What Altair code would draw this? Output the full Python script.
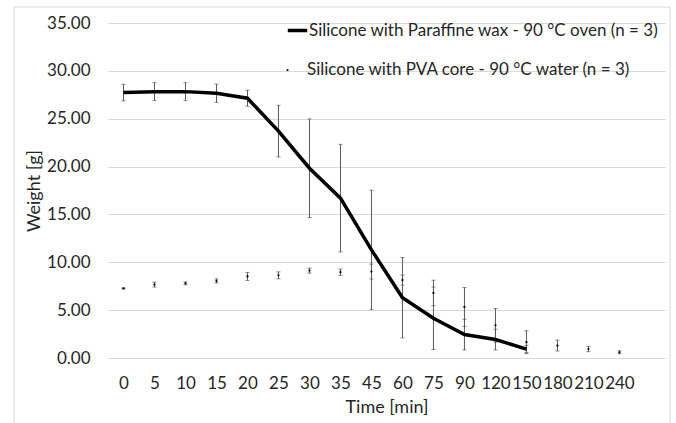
import altair as alt
import pandas as pd

times = ["0", "5", "10", "15", "20", "25", "30", "35", "45", "60", "75", "90",
         "120", "150", "180", "210", "240"]

S1 = "Silicone with Paraffine wax - 90 °C oven (n = 3)"
S2 = "Silicone with PVA core - 90 °C water (n = 3)"

paraffin_mean = [27.73, 27.83, 27.83, 27.66, 27.14, 23.70, 19.83, 16.70, 11.30,
                 6.30, 4.15, 2.45, 1.93, 0.93]
paraffin_err = [0.87, 0.94, 0.94, 0.96, 0.84, 2.70, 5.15, 5.62, 6.23,
                4.20, 3.27, 1.60, 1.08, 0.37]

pva_mean = [7.27, 7.67, 7.80, 8.05, 8.52, 8.64, 9.13, 8.96, 9.03, 8.14,
            6.80, 5.33, 3.42, 1.65, 1.30, 0.93, 0.60]
pva_err = [0.05, 0.26, 0.15, 0.22, 0.42, 0.36, 0.26, 0.33, 0.78, 0.52,
           1.33, 2.03, 1.75, 1.20, 0.57, 0.27, 0.15]


def make_df(means, errs, name):
    return pd.DataFrame({
        "idx": list(range(len(means))),
        "time": times[:len(means)],
        "mean": means,
        "lo": [m - e for m, e in zip(means, errs)],
        "hi": [m + e for m, e in zip(means, errs)],
        "series": name,
    })


df1 = make_df(paraffin_mean, paraffin_err, S1)
df2 = make_df(pva_mean, pva_err, S2)

FONT = "Lato"
TXT = "#262626"
ERR = "#595959"
LBL = 17
TTL = 18

label_expr = "[" + ",".join("'" + t + "'" for t in times) + "][datum.value]"

x_enc = alt.X(
    "idx:Q",
    scale=alt.Scale(domain=[-0.5, 17.47], nice=False, zero=False),
    axis=alt.Axis(values=list(range(len(times))), labelExpr=label_expr,
                  title="Time [min]", grid=False, ticks=False, domain=False,
                  labelPadding=17, titlePadding=7, labelFontSize=LBL,
                  titleFontSize=TTL, labelFont=FONT, titleFont=FONT,
                  labelColor=TXT, titleColor=TXT, titleFontWeight="normal",
                  labelFlush=False, labelOverlap=False),
)

y_axis = alt.Axis(values=[0, 5, 10, 15, 20, 25, 30, 35], format=".2f",
                  title="Weight [g]", grid=True, gridColor="#d9d9d9",
                  gridWidth=1, ticks=False, domain=False, labelPadding=18,
                  titlePadding=3, labelFontSize=LBL, titleFontSize=TTL,
                  labelFont=FONT, titleFont=FONT, labelColor=TXT,
                  titleColor=TXT, titleFontWeight="normal")
y_scale = alt.Scale(domain=[0, 35], nice=False, zero=True)

frame = alt.Chart(alt.Data(values=[{"a": 1}])).mark_rect(
    fill="transparent", stroke="#d9d9d9", strokeWidth=1
).encode(x=alt.value(-94), x2=alt.value(562), y=alt.value(-16), y2=alt.value(430))


def err_layers(df):
    rules = alt.Chart(df).mark_rule(color=ERR, strokeWidth=1).encode(
        x=x_enc,
        y=alt.Y("lo:Q", scale=y_scale, axis=y_axis),
        y2="hi:Q",
    )
    caps = alt.Chart(df).transform_fold(["lo", "hi"], as_=["k", "v"]).mark_tick(
        orient="horizontal", size=4, thickness=1, color=ERR
    ).encode(
        x=x_enc,
        y=alt.Y("v:Q", scale=y_scale, axis=y_axis),
    )
    return rules, caps


r1, c1 = err_layers(df1)
r2, c2 = err_layers(df2)

line = alt.Chart(df1).mark_line(strokeWidth=3.5).encode(
    x=x_enc,
    y=alt.Y("mean:Q", scale=y_scale, axis=y_axis),
    color=alt.Color("series:N", scale=alt.Scale(domain=[S1], range=["black"]),
                    legend=alt.Legend(orient="none", legendX=178, legendY=-4,
                                      title=None, symbolType="stroke",
                                      symbolSize=380, symbolStrokeWidth=3.5,
                                      labelFontSize=LBL, labelFont=FONT,
                                      labelColor=TXT, labelOffset=0,
                                      padding=0, labelLimit=500)),
)

points = alt.Chart(df2).mark_point(filled=True, size=5, color="black",
                                   opacity=1).encode(
    x=x_enc,
    y=alt.Y("mean:Q", scale=y_scale, axis=y_axis),
    shape=alt.Shape("series:N", scale=alt.Scale(domain=[S2], range=["circle"]),
                    legend=alt.Legend(orient="none", legendX=171, legendY=38.5,
                                      title=None, symbolSize=5,
                                      symbolFillColor="black",
                                      symbolStrokeColor="black",
                                      symbolStrokeWidth=0,
                                      labelFontSize=LBL, labelFont=FONT,
                                      labelColor=TXT, labelOffset=11,
                                      padding=0, labelLimit=500)),
)

chart = alt.layer(frame, r1, r2, c1, c2, line, points).properties(
    width=557, height=335,
    autosize=alt.AutoSizeParams(type="none"),
    padding={"left": 108, "top": 23, "right": 11, "bottom": 65},
    background="white",
).configure_view(stroke="transparent")

chart.save("out.html", embed_options={"renderer": "svg", "actions": False})
